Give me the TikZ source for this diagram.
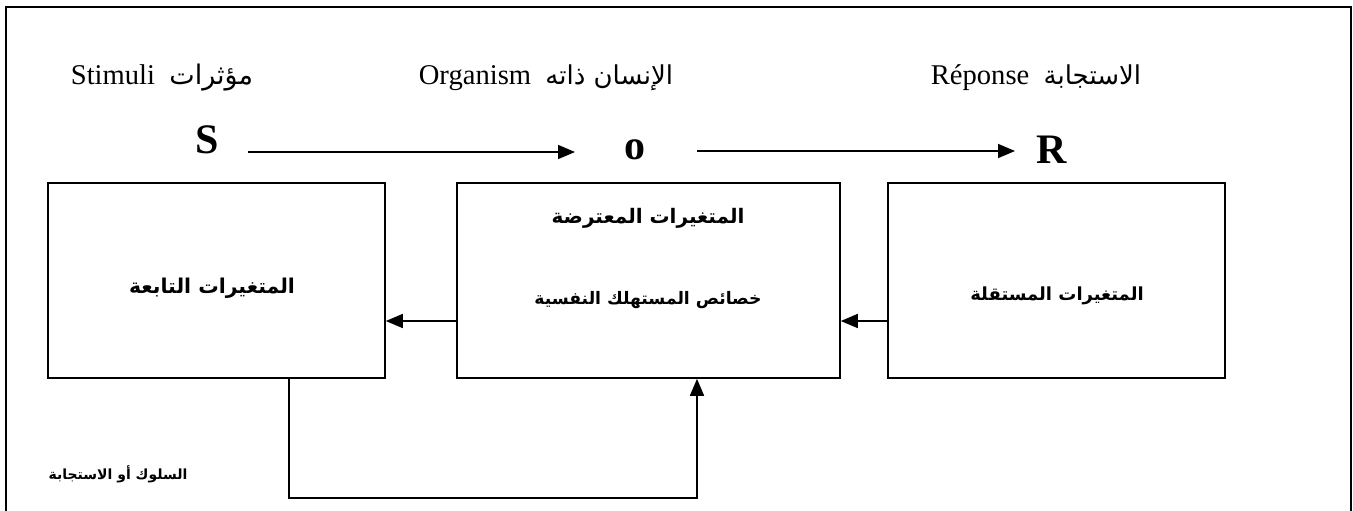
\documentclass[tikz,border=0pt]{standalone}
\usepackage{fontspec}
\setmainfont{Liberation Serif}
\newfontfamily\arabicfont[Script=Arabic]{DejaVu Sans}
\TeXXeTstate=1
\usetikzlibrary{arrows.meta,positioning}

\newcommand{\ar}[1]{{\arabicfont\beginR #1\endR}}

\begin{document}
\begin{tikzpicture}[x=0.5pt,y=0.5pt]
\tikzstyle{every node}+=[inner sep=0pt]
\tikzstyle{varbox}=[draw=black,line width=0.8pt,minimum height=97.5pt]
\tikzstyle{conn}=[black,line width=0.8pt,-{Triangle[length=8.5pt,width=7pt]}]
\tikzstyle{letter}=[font=\fontsize{21}{21}\selectfont\bfseries,anchor=base]
\tikzstyle{toplabel}=[font=\fontsize{14.3}{16}\selectfont]
\useasboundingbox (0,0) rectangle (1353,-510);
\draw [black,line width=1.1pt] (6,-530) -- (6,-7) -- (1351,-7) -- (1351,-530);
% top row
\node [toplabel] (stim) at (162,-78) {Stimuli~~\ar{\fontsize{13.5}{15}\selectfont مؤثرات}};
\node [toplabel] (orga) at (546,-78) {Organism~~\ar{\fontsize{13}{15}\selectfont الإنسان ذاته}};
\node [toplabel] (repo) at (1036,-78) {Réponse~~\ar{\fontsize{13}{15}\selectfont الاستجابة}};
\node [letter] (S) at (207,-153) {S};
\node [letter] (O) at (635,-159) {o};
\node [letter] (R) at (1052,-163) {R};
\coordinate (s1) at (248,-152);
\coordinate (o1) at (575,-152);
\coordinate (o2) at (697,-151);
\coordinate (r1) at (1015,-151);
\draw [conn] (s1) -- (o1);
\draw [conn] (o2) -- (r1);
% boxes
\node [varbox,minimum width=168.5pt] (dep) at (216.5,-280.5) {};
\node [varbox,minimum width=191.5pt] (mid) at (648.5,-280.5) {};
\node [varbox,minimum width=168.5pt] (ind) at (1056.5,-280.5) {};
\node [font=\fontsize{10.2}{14}\selectfont\bfseries] (deptxt) at (212,-288) {\ar{المتغيرات التابعة}};
\node [font=\fontsize{10}{14}\selectfont\bfseries] (midtop) at (648,-218) {\ar{المتغيرات المعترضة}};
\node [font=\fontsize{8.6}{14}\selectfont\bfseries] (midbot) at (648,-300) {\ar{خصائص المستهلك النفسية}};
\node [font=\fontsize{9}{14}\selectfont\bfseries] (indtxt) at (1057,-296) {\ar{المتغيرات المستقلة}};
\draw [conn] ([yshift=-20.25pt]ind.west) -- ([yshift=-20.25pt]mid.east);
\draw [conn] ([yshift=-20.25pt]mid.west) -- ([yshift=-20.25pt]dep.east);
% feedback
\draw [conn] ([xshift=36.25pt]dep.south) -- ++(0,-119) -| ([xshift=24.25pt]mid.south);
\node [font=\fontsize{7}{9}\selectfont\bfseries] (behav) at (118,-474) {\ar{السلوك أو الاستجابة}};
\end{tikzpicture}
\end{document}
